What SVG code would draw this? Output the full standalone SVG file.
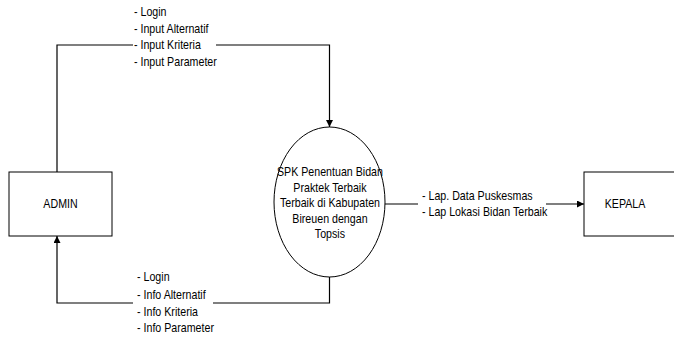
<svg xmlns="http://www.w3.org/2000/svg" width="674" height="339" viewBox="0 0 674 339">
<style>
text{font-family:"Liberation Sans",Arial,sans-serif;font-size:13px;fill:#000}
.shape{fill:#fff;stroke:#000;stroke-width:1}
.line{fill:none;stroke:#000;stroke-width:1.2}
.mid{text-anchor:middle}
</style>
<defs>
<marker id="arrow" viewBox="0 0 10 10" refX="10" refY="5" markerWidth="7" markerHeight="7" markerUnits="userSpaceOnUse" orient="auto">
<path d="M0,0 L10,5 L0,10 Z" fill="#000"/>
</marker>
</defs>
<rect width="674" height="339" fill="#fff"/>
<g id="connectors">
<path class="line" d="M57,172 V45 H133 M216,45 H329.5 V127" marker-end="url(#arrow)"/>
<path class="line" d="M329.5,277 V303 H213 M133,303 H57 V236" marker-end="url(#arrow)"/>
<path class="line" d="M385,204 H418 M546,204 H584" marker-end="url(#arrow)"/>
<g transform="scale(0.82 1)">
<text x="163.4" y="16">- Login</text>
<text x="163.4" y="32.7">- Input Alternatif</text>
<text x="163.4" y="49.5">- Input Kriteria</text>
<text x="163.4" y="66">- Input Parameter</text>
<text x="167.1" y="281.5">- Login</text>
<text x="167.1" y="299.5">- Info Alternatif</text>
<text x="167.1" y="316">- Info Kriteria</text>
<text x="167.1" y="332.5">- Info Parameter</text>
<text x="514.6" y="200.5">- Lap. Data Puskesmas</text>
<text x="514.6" y="216.5">- Lap Lokasi Bidan Terbaik</text>
</g>
</g>
<g id="admin">
<rect class="shape" x="9" y="172" width="103" height="64"/>
<text class="mid" transform="scale(0.82 1)" x="73.8" y="208.5">ADMIN</text>
</g>
<g id="process">
<ellipse class="shape" cx="329.5" cy="202" rx="55.5" ry="75"/>
<g transform="scale(0.82 1)">
<text class="mid" x="402.4" y="176.5">SPK Penentuan Bidan</text>
<text class="mid" x="402.4" y="192">Praktek Terbaik</text>
<text class="mid" x="402.4" y="207.5">Terbaik di Kabupaten</text>
<text class="mid" x="402.4" y="223">Bireuen dengan</text>
<text class="mid" x="402.4" y="238.5">Topsis</text>
</g>
</g>
<g id="kepala">
<rect class="shape" x="584" y="172" width="100" height="64"/>
<text class="mid" transform="scale(0.82 1)" x="762.2" y="208.5">KEPALA</text>
</g>
</svg>
